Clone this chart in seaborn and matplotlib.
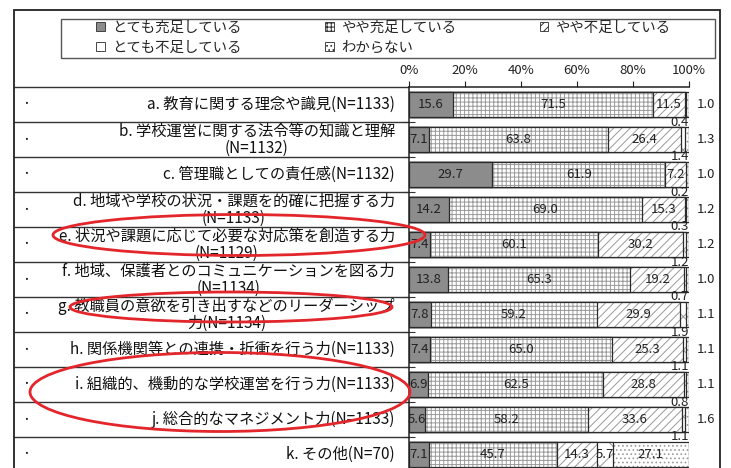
import numpy as np
import pandas as pd
import matplotlib.pyplot as plt
import seaborn as sns
from matplotlib.patches import Patch, Rectangle, Ellipse


# data
items = [
    "a. 教育に関する理念や識見(N=1133)",
    "b. 学校運営に関する法令等の知識と理解\n(N=1132)",
    "c. 管理職としての責任感(N=1132)",
    "d. 地域や学校の状況・課題を的確に把握する力\n(N=1133)",
    "e. 状況や課題に応じて必要な対応策を創造する力\n(N=1129)",
    "f. 地域、保護者とのコミュニケーションを図る力\n(N=1134)",
    "g. 教職員の意欲を引き出すなどのリーダーシップ\n力(N=1134)",
    "h. 関係機関等との連携・折衝を行う力(N=1133)",
    "i. 組織的、機動的な学校運営を行う力(N=1133)",
    "j. 総合的なマネジメント力(N=1133)",
    "k. その他(N=70)",
]
levels = ["とても充足している", "やや充足している", "やや不足している",
          "とても不足している", "わからない"]
very_enough = [15.6, 7.1, 29.7, 14.2, 7.4, 13.8, 7.8, 7.4, 6.9, 5.6, 7.1]
rather_enough = [71.5, 63.8, 61.9, 69.0, 60.1, 65.3, 59.2, 65.0, 62.5, 58.2, 45.7]
rather_short = [11.5, 26.4, 7.2, 15.3, 30.2, 19.2, 29.9, 25.3, 28.8, 33.6, 14.3]
very_short = [0.4, 1.4, 0.2, 0.3, 1.2, 0.7, 1.9, 1.1, 0.8, 1.1, 5.7]
dont_know = [1.0, 1.3, 1.0, 1.2, 1.2, 1.0, 1.1, 1.1, 1.1, 1.6, 27.1]
xticks = [0, 20, 40, 60, 80, 100]

face = ["#8c8c8c", "white", "white", "white", "white"]
hatches = ["", "++++", "////", "x", "...."]
edge = "#2a2a2a"
hatch_col = "#9a9a9a"

W, H = 731, 468


def fx(px):
    return px / W


def fy(py):
    return 1 - py / H


sns.set_theme(style="white")
plt.rcParams["font.family"] = ["Noto Sans CJK JP", "DejaVu Sans"]
plt.rcParams["hatch.linewidth"] = 0.7

df = pd.DataFrame({"item": items})
vals = [very_enough, rather_enough, rather_short, very_short, dont_know]
for name, v in zip(levels, vals):
    df[name] = v
cum = df[levels].cumsum(axis=1)

fig = plt.figure(figsize=(W / 100, H / 100), dpi=100)
ax = fig.add_axes([fx(409), fy(472), fx(689) - fx(409), 385 / H])

# stacked bars: draw cumulative totals from the last level back to the first,
# first the fill + gray hatch, then a dark outline on top
for k in range(len(levels) - 1, -1, -1):
    sns.barplot(x=cum[levels[k]], y=df["item"], orient="h", ax=ax,
                color=face[k], saturation=1, width=0.714, errorbar=None,
                hatch=hatches[k], edgecolor=hatch_col, linewidth=0)
    sns.barplot(x=cum[levels[k]], y=df["item"], orient="h", ax=ax,
                color=edge, fill=False, width=0.714, errorbar=None,
                linewidth=0.9)

# value labels
for i in range(len(items)):
    row = [v[i] for v in vals]
    starts = [0] + list(np.cumsum(row)[:-1])
    n_in = 5 if row[4] > 5 else 3
    for k in range(n_in):
        ax.text(starts[k] + row[k] / 2, i, f"{row[k]:.1f}", ha="center",
                va="center", fontsize=9.5, color="#222222")
    if n_in == 3:
        ax.text(100, i + 0.5, f"{row[3]:.1f}", ha="right", va="center",
                fontsize=9.5, color="#222222")
        ax.text(106.1, i, f"{row[4]:.1f}", ha="center", va="center",
                fontsize=9.5, color="#222222")
    ax.text(-0.05, i, items[i], transform=ax.get_yaxis_transform(),
            ha="right", va="center", multialignment="center",
            fontsize=11, linespacing=1.0, color="#111111")
    ax.text(-1.368, i, "・", transform=ax.get_yaxis_transform(),
            ha="center", va="center", fontsize=7, color="#111111")

ax.set_xlim(0, 100)
ax.set_ylim(len(items) - 0.5, -0.5)
ax.xaxis.tick_top()
ax.set_xticks(xticks)
ax.set_xticklabels([f"{t}%" for t in xticks], fontsize=9.5)
ax.tick_params(axis="x", direction="out", length=4, width=0.8, pad=3,
               colors="#222222", top=True, bottom=False)
ax.set_yticks(np.arange(0.5, len(items) - 1, 1))
ax.set_yticklabels([])
ax.tick_params(axis="y", direction="inout", length=8, width=0.8, left=True,
               colors="#333333")
ax.set_xlabel("")
ax.set_ylabel("")
for s in ["right", "bottom"]:
    ax.spines[s].set_visible(False)
for s in ["top", "left"]:
    ax.spines[s].set_color("#222222")
    ax.spines[s].set_linewidth(1.1)

# row separators in the label area
ax.hlines(np.arange(-0.5, len(items) - 1, 1), (14 - 409) / 280, 0,
          transform=ax.get_yaxis_transform(), colors="#333333",
          linewidth=1.0, clip_on=False)

# outer frame and legend box
fig.add_artist(Rectangle((fx(14), fy(490)), fx(720) - fx(14), 480 / H,
                         transform=fig.transFigure, fill=False,
                         edgecolor="#222222", linewidth=1.3))
fig.add_artist(Rectangle((fx(61), fy(58)), fx(715) - fx(61), 39 / H,
                         transform=fig.transFigure, fill=False,
                         edgecolor="#555555", linewidth=1.0))

handles = [Patch(facecolor=face[k], hatch=hatches[k], edgecolor=edge,
                 linewidth=0.6, label=levels[k]) for k in range(5)]
order = [0, 3, 1, 4, 2]
fig.legend([handles[k] for k in order], [levels[k] for k in order],
           ncol=3, loc="upper left", bbox_to_anchor=(fx(96), fy(21)),
           frameon=False, fontsize=10.4, handlelength=0.6, handleheight=0.6,
           handletextpad=0.5, columnspacing=5.8, labelspacing=0.4,
           borderpad=0, borderaxespad=0)

# red hand-drawn ellipses
for cx, cy, w, h in [(239, 235, 372, 41), (231, 307, 322, 30),
                     (220, 392, 380, 79)]:
    fig.add_artist(Ellipse((fx(cx), fy(cy)), w / W, h / H,
                           transform=fig.transFigure, fill=False,
                           edgecolor="#e3262b", linewidth=2.0))

fig.savefig("out.png", dpi=100)
